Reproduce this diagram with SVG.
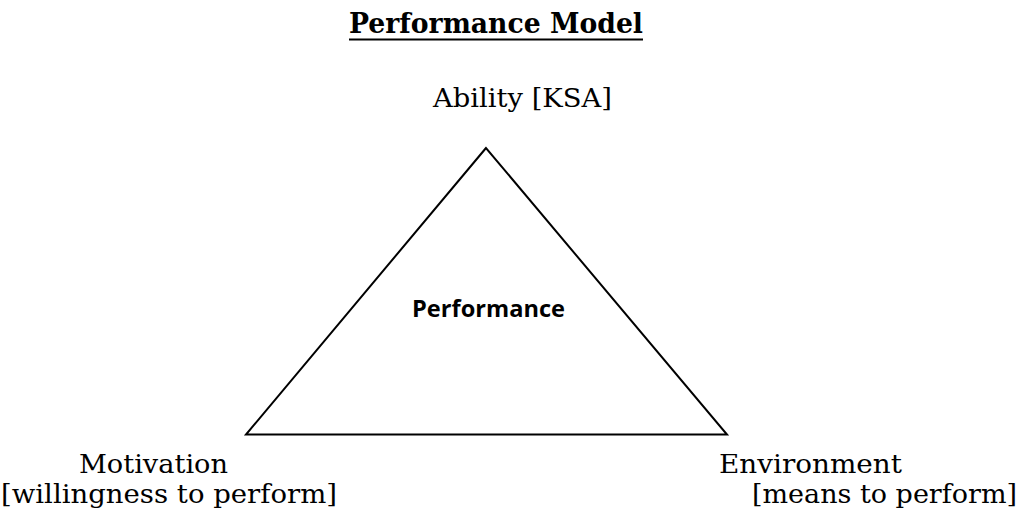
<svg xmlns="http://www.w3.org/2000/svg" width="1022" height="513" viewBox="0 0 1022 513">
<style>
.s{font-family:"DejaVu Serif","Liberation Serif",serif;font-size:26px;fill:#000}
.t{font-family:"DejaVu Serif","Liberation Serif",serif;font-size:27px;font-weight:bold;fill:#000}
.c{font-family:"Open Sans","Noto Sans",sans-serif;font-size:23px;font-weight:bold;fill:#000}
</style>
<rect width="1022" height="513" fill="#fff"/>
<g id="title">
<text class="t" x="349" y="33" textLength="294" lengthAdjust="spacingAndGlyphs">Performance Model</text>
<line x1="349" y1="39.5" x2="643" y2="39.5" stroke="#000" stroke-width="2"/>
</g>
<g id="connectors">
<polygon points="486,148 246,434.5 727,434.5" fill="none" stroke="#000" stroke-width="2"/>
</g>
<g id="performance">
<text class="c" x="412" y="317" textLength="153" lengthAdjust="spacingAndGlyphs">Performance</text>
</g>
<g id="ability">
<text class="s" x="433" y="107" textLength="179" lengthAdjust="spacingAndGlyphs">Ability [KSA]</text>
</g>
<g id="motivation">
<text class="s" x="79" y="473" textLength="149" lengthAdjust="spacingAndGlyphs">Motivation</text>
<text class="s" x="1" y="503" textLength="336" lengthAdjust="spacingAndGlyphs">[willingness to perform]</text>
</g>
<g id="environment">
<text class="s" x="719" y="473" textLength="183" lengthAdjust="spacingAndGlyphs">Environment</text>
<text class="s" x="752" y="503" textLength="265" lengthAdjust="spacingAndGlyphs">[means to perform]</text>
</g>
</svg>
